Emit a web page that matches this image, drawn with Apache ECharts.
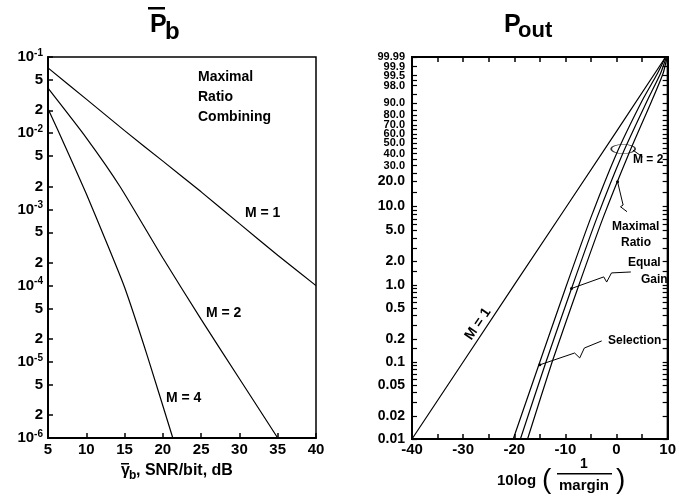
<!DOCTYPE html>
<html>
<head>
<meta charset="utf-8">
<script src="https://cdn.jsdelivr.net/npm/echarts@6/dist/echarts.min.js"></script>
<style>
  html, body { margin: 0; padding: 0; background: #fff; }
  #chart { width: 679px; height: 499px; }
</style>
</head>
<body>
<div id="chart"></div>
<script>
// left panel: average bit error probability vs SNR/bit (dB), maximal ratio combining
const snrM1 = [5, 10, 15, 20, 25, 30, 35, 40];
const pbM1 = [0.072, 0.028, 0.0108, 0.0043, 0.0017, 6.5e-4, 2.5e-4, 1.0e-4];
const snrM2 = [5, 10, 14.4, 20, 25, 30, 35];
const pbM2 = [0.039, 8.7e-3, 2.0e-3, 2.3e-4, 3.6e-5, 6.0e-6, 1.0e-6];
const snrM4 = [5, 7.5, 10, 12.5, 15, 18, 21.3];
const pbM4 = [0.021, 5.9e-3, 1.6e-3, 4.0e-4, 9.5e-5, 1.17e-5, 1.0e-6];
const pbTicks = [1e-1, 5e-2, 2e-2, 1e-2, 5e-3, 2e-3, 1e-3, 5e-4, 2e-4, 1e-4, 5e-5, 2e-5, 1e-5, 5e-6, 2e-6, 1e-6];

// right panel: outage probability (%) vs 10log(1/margin)
const marginM1 = [-40, -30, -20, -10, 0, 9.6];
const poutM1 = [0.01, 0.1, 1.0, 9.5, 63, 99.99];
const marginSel = [-20.2, -15, -10, -5, 0, 5, 8, 9.6];
const poutSel = [0.01, 0.1, 0.9, 7.3, 40, 91.7, 99.64, 99.99];
const marginEgc = [-18.8, -13.8, -8.8, -3.8, 1.2, 6.0, 8.6, 9.75];
const poutEgc = [0.01, 0.1, 0.9, 7.3, 40, 91.7, 99.64, 99.99];
const marginMrc = [-17.4, -12.6, -7.6, -2.6, 2.4, 6.9, 9.1, 9.9];
const poutMrc = [0.01, 0.1, 0.9, 7.3, 40, 91.7, 99.64, 99.99];
// tick labels, split over two stacked axes so none gets dropped for crowding
const poutLabelsA = ['0.01', '0.02', '0.05', '0.1', '0.2', '0.5', '1.0', '2.0', '5.0', '10.0', '20.0',
  '30.0', '50.0', '70.0', '90.0', '99.5', '99.99'];
const poutLabelsB = ['40.0', '60.0', '80.0', '98.0', '99.9'];
const poutMinor = [0.03, 0.04, 0.06, 0.07, 0.08, 0.09, 0.15, 0.3, 0.4, 0.6, 0.7, 0.8, 0.9, 1.5,
  3, 4, 6, 7, 8, 9, 15, 25, 35, 45, 55, 65, 75, 85, 95, 99];

// annotation leaders, [dB, %]
const leadMrc = [[0.2, 19.8], [1.29, 10.4], [0.78, 9.9], [2.05, 8.6]];
const leadEgc = [[-8.8, 0.9], [-2.5, 1.27], [-1.93, 1.09], [-0.98, 1.43], [2.8, 1.47]];
const leadSel = [[-15.0, 0.092], [-8.2, 0.131], [-7.2, 0.113], [-6.3, 0.152], [-2.9, 0.188]];
const leadM2 = [[3.2, 43.4], [5.1, 37.0]];
const ringM2 = [[1.3, 44.4]];

const FONT = 'Liberation Sans, Arial, sans-serif';
const lg = v => Math.log10(v);
const wb = p => Math.log10(-Math.log(1 - p / 100)); // weibull probability scale

const pairs = (xs, ys, f) => xs.map((x, i) => [x, f(ys[i])]);
const nearest = (vals, v) => {
  let best = 0;
  vals.forEach((t, i) => { if (Math.abs(t - v) < Math.abs(vals[best] - v)) best = i; });
  return best;
};

const pbTickVals = pbTicks.map(lg);
const poutValsA = poutLabelsA.map(s => wb(parseFloat(s)));
const poutValsB = poutLabelsB.map(s => wb(parseFloat(s)));
const poutTickVals = poutValsA.concat(poutValsB, poutMinor.map(wb));

const lineStyle = { color: '#000', width: 1.2 };
const curve = (data, xi, yi) => ({
  type: 'line', data: data, xAxisIndex: xi, yAxisIndex: yi,
  showSymbol: false, smooth: 0.2, lineStyle: lineStyle, silent: true, z: 3
});
const leader = data => ({
  type: 'line', data: data.map((d, i) => i === 0 ? { value: [d[0], wb(d[1])], symbol: 'circle', symbolSize: 3 } : [d[0], wb(d[1])]),
  xAxisIndex: 1, yAxisIndex: 1, showSymbol: true, symbol: 'none', symbolSize: 0,
  itemStyle: { color: '#000' }, lineStyle: { color: '#000', width: 1 }, silent: true, z: 4
});

const axisLine = { show: true, onZero: false, lineStyle: { color: '#000', width: 2 } };
const text = (x, y, s, size, extra) => Object.assign({
  type: 'text', x: x, y: y,
  style: { text: s, font: 'bold ' + size + 'px ' + FONT, fill: '#000', align: 'left', verticalAlign: 'middle' }
}, extra || {});

const poutRich = {
  a: { fontFamily: FONT, fontWeight: 'bold', fontSize: 11, lineHeight: 9, color: '#000' },
  c: { fontFamily: FONT, fontWeight: 'bold', fontSize: 14, lineHeight: 16, color: '#000' }
};
const poutLabel = (labels, vals) => ({
  customValues: vals, margin: 7, color: '#000', showMinLabel: true, showMaxLabel: true, hideOverlap: false,
  formatter: v => {
    const s = labels[nearest(vals, v)];
    return parseFloat(s) > 25 ? '{a|' + s + '}' : '{c|' + s + '}';
  },
  rich: poutRich
});

const chart = echarts.init(document.getElementById('chart'), null, { renderer: 'canvas' });
chart.setOption({
  animation: false,
  backgroundColor: '#fff',
  grid: [
    { left: 48, top: 57, width: 268, height: 381, show: true, borderColor: '#000', borderWidth: 1.5 },
    { left: 412, top: 57, width: 264, height: 382, show: true, borderColor: '#000', borderWidth: 2 }
  ],
  xAxis: [
    {
      gridIndex: 0, type: 'value', min: 5, max: 40, interval: 5,
      axisLine: axisLine, splitLine: { show: false },
      axisTick: { inside: true, length: 5, lineStyle: { width: 1.5 } },
      axisLabel: { color: '#000', fontFamily: FONT, fontWeight: 'bold', fontSize: 15, margin: 4 }
    },
    {
      gridIndex: 1, type: 'value', min: -40, max: 10, interval: 5,
      axisLine: axisLine, splitLine: { show: false },
      axisTick: { inside: true, length: 5, lineStyle: { width: 1.5 } },
      axisLabel: {
        color: '#000', fontFamily: FONT, fontWeight: 'bold', fontSize: 15, margin: 3,
        formatter: v => (v % 10 === 0 ? String(v) : '')
      }
    },
    {
      gridIndex: 1, type: 'value', min: -40, max: 10, interval: 5, position: 'top',
      axisLine: axisLine, splitLine: { show: false },
      axisTick: { inside: true, length: 5, lineStyle: { width: 1.5 } },
      axisLabel: { show: false }
    }
  ],
  yAxis: [
    {
      gridIndex: 0, type: 'value', min: -6, max: -1,
      axisLine: axisLine, splitLine: { show: false },
      axisTick: { inside: true, length: 5, customValues: pbTickVals, lineStyle: { width: 1.5 } },
      axisLabel: {
        customValues: pbTickVals, margin: 5, color: '#000', showMinLabel: true, showMaxLabel: true, hideOverlap: false,
        formatter: v => {
          const p = pbTicks[nearest(pbTickVals, v)];
          const e = Math.floor(Math.log10(p) + 1e-9);
          const m = Math.round(p / Math.pow(10, e));
          return m === 1 ? '{b|10}{s|' + e + '}' : '{b|' + m + '}';
        },
        rich: {
          b: { fontFamily: FONT, fontWeight: 'bold', fontSize: 15, lineHeight: 18, color: '#000' },
          s: { fontFamily: FONT, fontWeight: 'bold', fontSize: 10, lineHeight: 10, verticalAlign: 'top', color: '#000' }
        }
      }
    },
    {
      gridIndex: 1, type: 'value', min: wb(0.01), max: wb(99.99),
      axisLine: axisLine, splitLine: { show: false },
      axisTick: { inside: true, length: 5, customValues: poutTickVals, lineStyle: { width: 1.2 } },
      axisLabel: poutLabel(poutLabelsA, poutValsA)
    },
    {
      gridIndex: 1, type: 'value', min: wb(0.01), max: wb(99.99), position: 'right',
      axisLine: axisLine, splitLine: { show: false },
      axisTick: { inside: true, length: 5, customValues: poutTickVals, lineStyle: { width: 1.2 } },
      axisLabel: { show: false }
    },
    {
      gridIndex: 1, type: 'value', min: wb(0.01), max: wb(99.99), position: 'left', offset: 0,
      axisLine: { show: false }, splitLine: { show: false }, axisTick: { show: false },
      axisLabel: poutLabel(poutLabelsB, poutValsB)
    }
  ],
  series: [
    curve(pairs(snrM1, pbM1, lg), 0, 0),
    curve(pairs(snrM2, pbM2, lg), 0, 0),
    curve(pairs(snrM4, pbM4, lg), 0, 0),
    Object.assign(curve(pairs(marginM1, poutM1, wb), 1, 1), { smooth: false }),
    curve(pairs(marginSel, poutSel, wb), 1, 1),
    curve(pairs(marginEgc, poutEgc, wb), 1, 1),
    curve(pairs(marginMrc, poutMrc, wb), 1, 1),
    leader(leadMrc),
    leader(leadEgc),
    leader(leadSel),
    {
      type: 'line', data: leadM2.map(d => [d[0], wb(d[1])]), xAxisIndex: 1, yAxisIndex: 1,
      showSymbol: false, lineStyle: { color: '#000', width: 1 }, silent: true
    },
    {
      type: 'scatter', data: ringM2.map(d => [d[0], wb(d[1])]), xAxisIndex: 1, yAxisIndex: 1,
      symbol: 'circle', symbolSize: [24, 9], silent: true,
      itemStyle: { color: 'rgba(0,0,0,0)', borderColor: '#000', borderWidth: 1 }
    }
  ],
  graphic: [
    // left title
    text(150, 25, 'P', 25),
    { type: 'rect', shape: { x: 148, y: 7, width: 17, height: 2.5 }, style: { fill: '#000' } },
    text(165, 32, 'b', 24),
    // right title
    text(504, 25, 'P', 25),
    text(518, 31, 'out', 22),
    // left annotations
    text(198, 77, 'Maximal', 14),
    text(198, 97, 'Ratio', 14),
    text(198, 117, 'Combining', 14),
    text(245, 213, 'M = 1', 14),
    text(206, 313, 'M = 2', 14),
    text(166, 398, 'M = 4', 14),
    // left x label
    text(121, 471, 'γ', 16),
    { type: 'rect', shape: { x: 121, y: 463, width: 8, height: 1.5 }, style: { fill: '#000' } },
    text(129, 476, 'b', 12),
    text(136, 471, ', SNR/bit, dB', 16),
    // right annotations
    text(478, 324, 'M = 1', 14, { rotation: 0.974, style: { text: 'M = 1', font: 'bold 14px ' + FONT, fill: '#000', align: 'center', verticalAlign: 'middle' } }),
    text(633, 160, 'M = 2', 12),
    text(612, 227, 'Maximal', 12),
    text(621, 243, 'Ratio', 12),
    text(628, 263, 'Equal', 12),
    text(641, 280, 'Gain', 12),
    text(608, 341, 'Selection', 12),
    // right x label
    text(497, 481, '10log', 15),
    text(542, 480, '(', 30, { style: { text: '(', font: '28px ' + FONT, fill: '#000', align: 'left', verticalAlign: 'middle' } }),
    text(584, 464, '1', 14, { style: { text: '1', font: 'bold 14px ' + FONT, fill: '#000', align: 'center', verticalAlign: 'middle' } }),
    { type: 'rect', shape: { x: 557, y: 473, width: 55, height: 1.5 }, style: { fill: '#000' } },
    text(584, 486, 'margin', 15, { style: { text: 'margin', font: 'bold 15px ' + FONT, fill: '#000', align: 'center', verticalAlign: 'middle' } }),
    text(616, 480, ')', 30, { style: { text: ')', font: '28px ' + FONT, fill: '#000', align: 'left', verticalAlign: 'middle' } })
  ]
});
</script>
</body>
</html>
